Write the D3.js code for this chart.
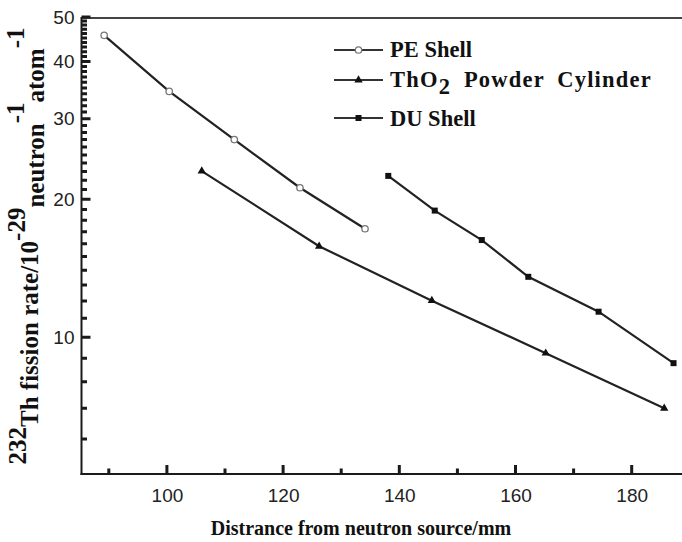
<!DOCTYPE html>
<html>
<head>
<meta charset="utf-8">
<script src="https://cdn.jsdelivr.net/npm/d3@7"></script>
<style>
  html, body { margin: 0; padding: 0; background: #fff; }
  svg { display: block; }
</style>
</head>
<body>
<svg id="chart" width="682" height="542"></svg>
<script>
// Distance from the neutron source (mm) and 232Th fission rate (1e-29 per neutron per atom)
const peX   = [89.2, 100.4, 111.6, 122.9, 134.1];
const peY   = [45.6, 34.4, 27.0, 21.2, 17.25];
const thoX  = [106.0, 126.2, 145.6, 165.2, 185.6];
const thoY  = [23.05, 15.8, 12.02, 9.23, 7.0];
const duX   = [138.1, 146.1, 154.2, 162.2, 174.3, 187.2];
const duY   = [22.5, 18.9, 16.3, 13.55, 11.37, 8.78];

const xTickValues = [100, 120, 140, 160, 180];
const xMinorValues = [90, 110, 130, 150, 170];
const yTickValues = [10, 20, 30, 40, 50];

const svg = d3.select("#chart");

const x = d3.scaleLinear().domain([85.3, 190]).range([81.5, 689.8]);
const y = d3.scaleLog().domain([5.03, 50]).range([474, 17]);

const plotLeft = 81.5, plotRight = 690, plotTop = 18, plotBottom = 474;
const axisColor = "#1a1a1a";

// frame
svg.append("line").attr("x1", plotLeft).attr("x2", plotRight).attr("y1", plotTop).attr("y2", plotTop)
  .attr("stroke", "#444").attr("stroke-width", 2.2);
svg.append("line").attr("x1", plotLeft).attr("x2", plotLeft).attr("y1", plotTop - 1).attr("y2", plotBottom + 1)
  .attr("stroke", axisColor).attr("stroke-width", 2);
svg.append("line").attr("x1", plotLeft - 1).attr("x2", plotRight).attr("y1", plotBottom).attr("y2", plotBottom)
  .attr("stroke", axisColor).attr("stroke-width", 2);

// tick marks pointing into the plot, as one path
const yMinorValues = d3.range(6, 50).filter(v => !yTickValues.includes(v));
let tickPath = "";
xTickValues.forEach(v => { tickPath += `M${x(v)},${plotBottom}V${plotBottom - 9}`; });
xMinorValues.forEach(v => { tickPath += `M${x(v)},${plotBottom}V${plotBottom - 5.5}`; });
yTickValues.forEach(v => { tickPath += `M${plotLeft},${y(v)}H${plotLeft + 9}`; });
yMinorValues.forEach(v => { tickPath += `M${plotLeft},${y(v)}H${plotLeft + 5.5}`; });
svg.append("path").attr("d", tickPath).attr("fill", "none")
  .attr("stroke", axisColor).attr("stroke-width", 3);

// x axis labels
const xAxis = d3.axisBottom(x).tickValues(xTickValues).tickSize(0)
  .tickPadding(15).tickFormat(d3.format("d"));
const gx = svg.append("g").attr("transform", `translate(0,${plotBottom})`).call(xAxis);
gx.select(".domain").remove();
gx.selectAll(".tick text").attr("font-family", "Liberation Sans, Arial, sans-serif")
  .attr("font-size", 19).attr("fill", "#222");

// y axis labels (log scale)
const yAxis = d3.axisLeft(y).tickValues(yTickValues).tickSize(0)
  .tickPadding(7).tickFormat(d3.format("d"));
const gy = svg.append("g").attr("transform", `translate(${plotLeft},0)`).call(yAxis);
gy.select(".domain").remove();
gy.selectAll(".tick text").attr("font-family", "Liberation Sans, Arial, sans-serif")
  .attr("font-size", 19).attr("fill", "#222");

// series
const series = [
  { name: "pe",  xs: peX,  ys: peY,  marker: "circle" },
  { name: "tho", xs: thoX, ys: thoY, marker: "triangle" },
  { name: "du",  xs: duX,  ys: duY,  marker: "square" }
];
const line = d3.line().x(d => x(d[0])).y(d => y(d[1]));

function drawMarker(g, kind, cx, cy) {
  if (kind === "circle") {
    g.append("circle").attr("cx", cx).attr("cy", cy).attr("r", 3.2)
      .attr("fill", "#fff").attr("stroke", "#777").attr("stroke-width", 1.3);
  } else if (kind === "triangle") {
    g.append("path").attr("transform", `translate(${cx},${cy})`)
      .attr("d", d3.symbol().type(d3.symbolTriangle).size(30)()).attr("fill", "#111");
  } else {
    g.append("rect").attr("x", cx - 3).attr("y", cy - 3).attr("width", 6).attr("height", 6)
      .attr("fill", "#111");
  }
}

series.forEach(s => {
  const pts = s.xs.map((v, i) => [v, s.ys[i]]);
  svg.append("path").datum(pts).attr("d", line).attr("fill", "none")
    .attr("stroke", "#222").attr("stroke-width", 2.2);
  const g = svg.append("g");
  pts.forEach(p => drawMarker(g, s.marker, x(p[0]), y(p[1])));
});

// legend
const legendRows = [
  { marker: "circle",   y: 50 },
  { marker: "triangle", y: 80 },
  { marker: "square",   y: 118 }
];
legendRows.forEach(r => {
  svg.append("line").attr("x1", 334).attr("x2", 383).attr("y1", r.y).attr("y2", r.y)
    .attr("stroke", "#333").attr("stroke-width", 2.2);
  drawMarker(svg, r.marker, 358.5, r.y);
});
const serifFont = "Liberation Serif, Times New Roman, serif";
const legText = (yy) => svg.append("text").attr("x", 390).attr("y", yy)
  .attr("font-family", serifFont).attr("font-weight", "bold").attr("font-size", 22.5).attr("fill", "#111");
legText(57).text("PE Shell");
const t2 = legText(87).attr("letter-spacing", 1.2).attr("word-spacing", 6);
t2.append("tspan").text("ThO");
t2.append("tspan").attr("dy", 7).text("2");
t2.append("tspan").attr("dy", -7).text(" Powder Cylinder");
legText(126).text("DU Shell");

// axis titles
svg.append("text").attr("x", 361).attr("y", 535).attr("text-anchor", "middle")
  .attr("font-family", serifFont).attr("font-weight", "bold").attr("font-size", 20)
  .attr("fill", "#111").text("Distrance from neutron source/mm");

const yt = svg.append("text").attr("transform", "translate(38,246) rotate(-90)")
  .attr("text-anchor", "middle").attr("font-family", serifFont).attr("font-weight", "bold")
  .attr("font-size", 25).attr("fill", "#111");
yt.append("tspan").attr("dy", -12).text("232");
yt.append("tspan").attr("dy", 12).text("Th fission rate/10");
yt.append("tspan").attr("dy", -13).text("-29");
yt.append("tspan").attr("dy", 19).text("neutron");
yt.append("tspan").attr("dy", -20).text("-1");
yt.append("tspan").attr("dy", 20).text("atom");
yt.append("tspan").attr("dy", -20).text("-1");
</script>
</body>
</html>
